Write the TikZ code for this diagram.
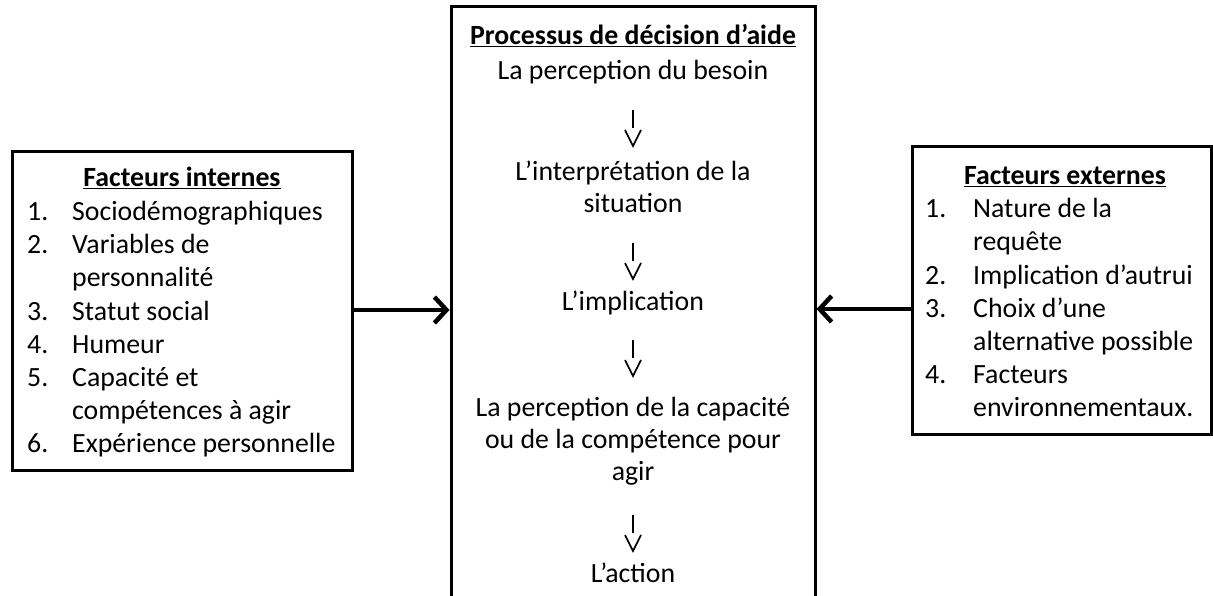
\documentclass[tikz,border=0pt]{standalone}
\usepackage{fontspec}
\setmainfont{Carlito}
\usetikzlibrary{arrows.meta}
\begin{document}
\begin{tikzpicture}[x=1pt,y=1pt,
  box/.style={draw=black,line width=3pt,inner sep=0pt},
  txt/.style={inner sep=0pt,anchor=base,font=\fontsize{27.8}{32.3}\selectfont},
  item/.style={inner sep=0pt,anchor=base west,font=\fontsize{27.8}{33}\selectfont},
  bigarrow/.style={line width=4.5pt,-{Straight Barb[length=12pt,width=26pt,line width=4.5pt]}},
  thin/.style={line width=1.6pt}]
\useasboundingbox (0,0) rectangle (1213,-596);
% boxes
\node[box,minimum width=340pt,minimum height=318pt] (left) at (182,-311) {};
\node[box,minimum width=299pt,minimum height=287pt] (right) at (1061.5,-290.5) {};
\node[box,minimum width=364pt,minimum height=590pt] (center) at (633,-302) {};
% center texts
\node[txt] (title) at (633,-45) {\textbf{\underline{Processus de décision d’aide}}};
\node[txt] (s1) at (633,-80) {La perception du besoin};
\node[txt] (s2a) at (633,-181) {L’interprétation de la};
\node[txt] (s2b) at (633,-213) {situation};
\node[txt] (s3) at (633,-310) {L’implication};
\node[txt] (s4a) at (633,-416) {La perception de la capacité};
\node[txt] (s4b) at (633,-448) {ou de la compétence pour};
\node[txt] (s4c) at (633,-480) {agir};
\node[txt] (s5) at (633,-582) {L’action};
% small arrows
\foreach \t in {110,243,340,515}{
  \draw[thin] (633,-\t) -- (633,-\t-18);
  \draw[thin,line join=miter] (625,-\t-20) -- (633,-\t-36) -- (641,-\t-20);
}
% left texts
\node[txt] (lt) at (182,-187) {\textbf{\underline{Facteurs internes}}};
\node[item] (ln1) at (27,-221) {1.};
\node[item] (li1) at (72,-221) {Sociodémographiques};
\node[item] (ln2) at (27,-254) {2.};
\node[item] (li2a) at (72,-254) {Variables de};
\node[item] (li2b) at (72,-287) {personnalité};
\node[item] (ln3) at (27,-320) {3.};
\node[item] (li3) at (72,-320) {Statut social};
\node[item] (ln4) at (27,-353) {4.};
\node[item] (li4) at (72,-353) {Humeur};
\node[item] (ln5) at (27,-386) {5.};
\node[item] (li5a) at (72,-386) {Capacité et};
\node[item] (li5b) at (72,-419) {compétences à agir};
\node[item] (ln6) at (27,-452) {6.};
\node[item] (li6) at (72,-452) {Expérience personnelle};
% right texts
\node[txt] (rt) at (1065,-185) {\textbf{\underline{Facteurs externes}}};
\node[item] (rn1) at (925,-218) {1.};
\node[item] (ri1a) at (973,-218) {Nature de la};
\node[item] (ri1b) at (973,-251) {requête};
\node[item] (rn2) at (925,-284) {2.};
\node[item] (ri2) at (973,-284) {Implication d’autrui};
\node[item] (rn3) at (925,-317) {3.};
\node[item] (ri3a) at (973,-317) {Choix d’une};
\node[item] (ri3b) at (973,-350) {alternative possible};
\node[item] (rn4) at (925,-383) {4.};
\node[item] (ri4a) at (973,-383) {Facteurs};
\node[item] (ri4b) at (973,-416) {environnementaux.};
% connectors
\draw[bigarrow] ([yshift=1pt]left.east) -- ([yshift=1pt]left.east -| center.west);
\draw[bigarrow] ([yshift=-18.5pt]right.west) -- ([yshift=-18.5pt]right.west -| center.east);
\end{tikzpicture}
\end{document}
